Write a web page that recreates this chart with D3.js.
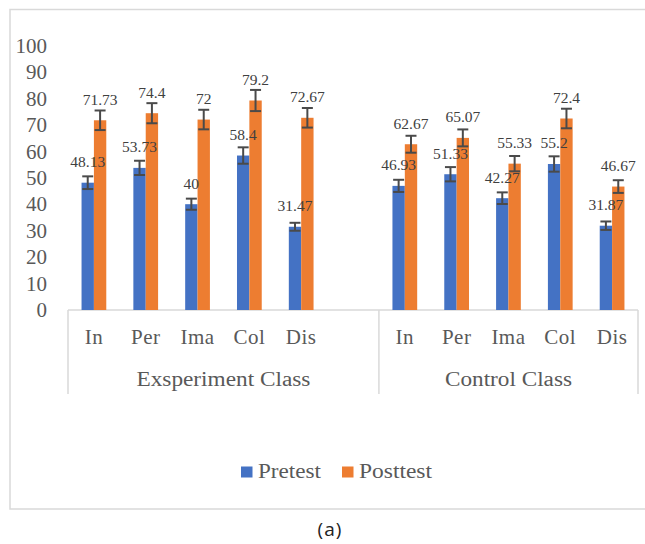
<!DOCTYPE html>
<html>
<head>
<meta charset="utf-8">
<script src="https://cdn.jsdelivr.net/npm/d3@7"></script>
<style>
  html, body { margin: 0; padding: 0; background: #fff; }
  svg { display: block; }
</style>
</head>
<body>
<svg id="chart" width="645" height="544"></svg>
<script>
// Sub-categories and the two class groups (the experiment group keeps one empty slot at its end)
const categories = ["In", "Per", "Ima", "Col", "Dis"];
const groups = ["Exsperiment Class", "Control Class"];
const groupSlots = [6, 5];

// Mean scores, experiment group first, then control group
const pretest  = [48.13, 53.73, 40, 58.4, 31.47, 46.93, 51.33, 42.27, 55.2, 31.87];
const posttest = [71.73, 74.4, 72, 79.2, 72.67, 62.67, 65.07, 55.33, 72.4, 46.67];

// Error bar half-lengths
const pretestErr  = [2.4, 2.7, 2.1, 3.1, 1.5, 2.3, 2.7, 2.2, 2.9, 1.6];
const posttestErr = [3.7, 3.8, 3.7, 4.0, 3.7, 3.2, 3.2, 2.9, 3.7, 2.4];

const seriesNames = ["Pretest", "Posttest"];
const yTicks = [0, 10, 20, 30, 40, 50, 60, 70, 80, 90, 100];

const colors = { Pretest: "#4472C4", Posttest: "#ED7D31" };
const textColor = "#595959";
const serif = "'Liberation Serif', 'Times New Roman', serif";

const svg = d3.select("#chart");

// Outer chart frame
svg.append("rect")
  .attr("x", 10).attr("y", 9.5)
  .attr("width", 645).attr("height", 499.5)
  .attr("fill", "#fff").attr("stroke", "#d9d9d9").attr("stroke-width", 1.5);

// Build slot keys: one per category position on the x axis
const slots = [];
groups.forEach((g, gi) => {
  for (let i = 0; i < groupSlots[gi]; i++) {
    slots.push({ group: g, key: g + "|" + i, label: categories[i] || "" });
  }
});

// Map each data point to its slot
const points = [];
groups.forEach((g, gi) => {
  categories.forEach((c, ci) => {
    const di = gi * categories.length + ci;
    points.push({
      key: g + "|" + ci,
      Pretest: pretest[di], Posttest: posttest[di],
      PretestErr: pretestErr[di], PosttestErr: posttestErr[di]
    });
  });
});

const plotLeft = 68, plotRight = 638, plotBottom = 310;
const x = d3.scaleBand().domain(slots.map(s => s.key)).range([plotLeft, plotRight]);
const y = d3.scaleLinear().domain([0, 100]).range([plotBottom, 45.5]);

// Two bars per slot, Excel-like gap width
const pairWidth = x.bandwidth() * 2 / 4.19;
const xs = d3.scaleBand().domain(seriesNames).range([0, pairWidth]);

// Y axis: labels only, no line, no ticks
const yAxis = svg.append("g")
  .attr("transform", `translate(${plotLeft - 12},0)`)
  .call(d3.axisLeft(y).tickValues(yTicks).tickSize(0).tickPadding(9).tickFormat(d3.format("d")));
yAxis.select(".domain").remove();
yAxis.selectAll("text")
  .attr("fill", textColor)
  .style("font-family", serif).style("font-size", "21px");

// Category axis box
const axisG = svg.append("g").attr("stroke", "#d9d9d9").attr("stroke-width", 1.5).attr("fill", "none");
axisG.append("line").attr("x1", plotLeft).attr("x2", plotRight).attr("y1", plotBottom).attr("y2", plotBottom);
let startIdx = 0;
const groupBounds = [];
groups.forEach((g, gi) => {
  const first = slots[startIdx].key;
  const last = slots[startIdx + groupSlots[gi] - 1].key;
  groupBounds.push({ group: g, x0: x(first), x1: x(last) + x.bandwidth() });
  startIdx += groupSlots[gi];
});
const dividers = [plotLeft].concat(groupBounds.map(b => b.x1));
axisG.selectAll("line.div").data(dividers).enter().append("line")
  .attr("class", "div")
  .attr("x1", d => d).attr("x2", d => d)
  .attr("y1", plotBottom).attr("y2", 394);

// Sub-category labels
svg.append("g").selectAll("text").data(slots.filter(s => s.label)).enter().append("text")
  .attr("x", d => x(d.key) + x.bandwidth() / 2)
  .attr("y", 344)
  .attr("text-anchor", "middle")
  .attr("fill", textColor)
  .style("font-family", serif).style("font-size", "21px")
  .style("letter-spacing", "0.5px")
  .text(d => d.label);

// Group labels
const groupWidths = { "Exsperiment Class": 174, "Control Class": 127 };
svg.append("g").selectAll("text").data(groupBounds).enter().append("text")
  .attr("x", d => (d.x0 + d.x1) / 2)
  .attr("y", 386)
  .attr("text-anchor", "middle")
  .attr("fill", textColor)
  .attr("textLength", d => groupWidths[d.group])
  .attr("lengthAdjust", "spacingAndGlyphs")
  .style("font-family", serif).style("font-size", "20px")
  .text(d => d.group);

// Bars
const slotG = svg.append("g").selectAll("g").data(points).enter().append("g")
  .attr("transform", d => `translate(${x(d.key) + (x.bandwidth() - pairWidth) / 2},0)`);

seriesNames.forEach(s => {
  slotG.append("rect")
    .attr("x", xs(s))
    .attr("width", xs.bandwidth())
    .attr("y", d => y(d[s]))
    .attr("height", d => y(0) - y(d[s]))
    .attr("fill", colors[s]);
});

// Error bars
seriesNames.forEach(s => {
  const eb = slotG.append("g").attr("stroke", "#4a4a4a").attr("stroke-width", 2);
  const cx = xs(s) + xs.bandwidth() / 2;
  eb.append("line")
    .attr("x1", cx).attr("x2", cx)
    .attr("y1", d => y(d[s] + d[s + "Err"])).attr("y2", d => y(d[s] - d[s + "Err"]));
  eb.append("line")
    .attr("x1", cx - 5.5).attr("x2", cx + 5.5)
    .attr("y1", d => y(d[s] + d[s + "Err"])).attr("y2", d => y(d[s] + d[s + "Err"]));
  eb.append("line")
    .attr("x1", cx - 5.5).attr("x2", cx + 5.5)
    .attr("y1", d => y(d[s] - d[s + "Err"])).attr("y2", d => y(d[s] - d[s + "Err"]));
});

// Value labels above bars
seriesNames.forEach(s => {
  slotG.append("text")
    .attr("x", xs(s) + xs.bandwidth() / 2)
    .attr("y", d => y(d[s]) - 15.5)
    .attr("text-anchor", "middle")
    .attr("fill", "#404040")
    .style("font-family", serif).style("font-size", "15.5px")
    .text(d => d[s]);
});

// Legend
const legendItems = [
  { name: "Pretest", x: 241, w: 63 },
  { name: "Posttest", x: 342, w: 73 }
];
const lg = svg.append("g").selectAll("g").data(legendItems).enter().append("g")
  .attr("transform", d => `translate(${d.x},0)`);
lg.append("rect").attr("x", 0).attr("y", 466.5).attr("width", 11.5).attr("height", 11)
  .attr("fill", d => colors[d.name]);
lg.append("text").attr("x", 17).attr("y", 477.5)
  .attr("fill", textColor)
  .attr("textLength", d => d.w)
  .attr("lengthAdjust", "spacingAndGlyphs")
  .style("font-family", serif).style("font-size", "20px")
  .text(d => d.name);

// Panel caption
svg.append("text")
  .attr("x", 330).attr("y", 536)
  .attr("text-anchor", "middle")
  .attr("fill", "#222")
  .style("font-family", "'Open Sans', 'Noto Sans', sans-serif").style("font-size", "19px")
  .style("letter-spacing", "1px")
  .text("(a)");
</script>
</body>
</html>
